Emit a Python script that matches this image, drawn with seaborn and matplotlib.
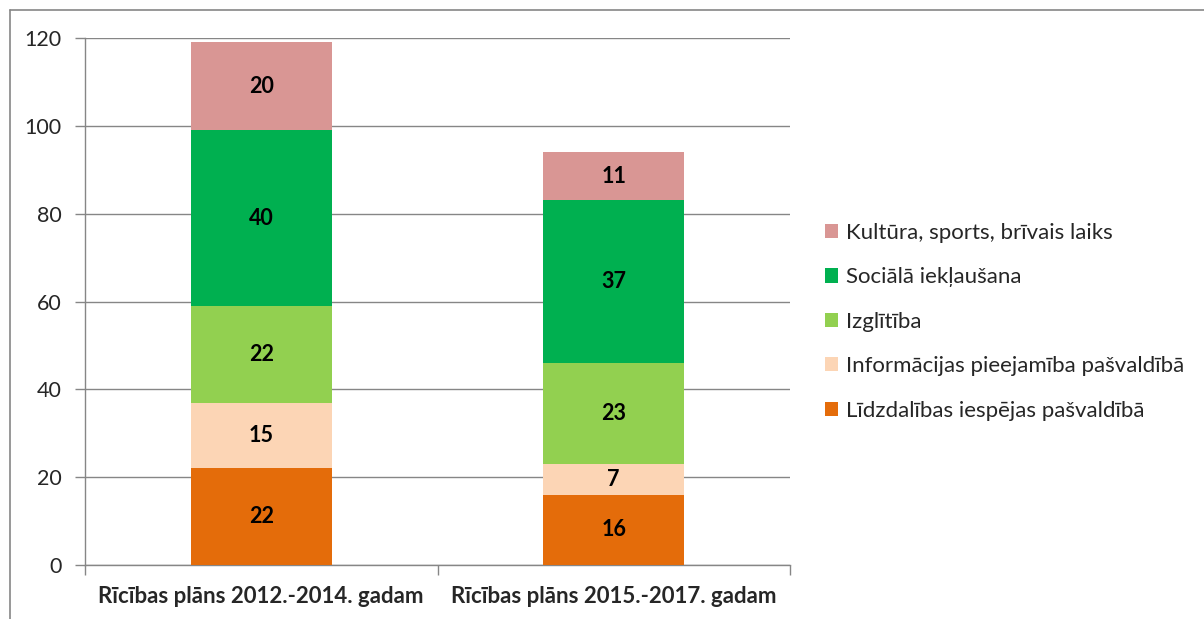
import matplotlib
matplotlib.use("Agg")
import matplotlib.pyplot as plt
import seaborn as sns
import pandas as pd
import numpy as np
from matplotlib.patches import Patch
from matplotlib.lines import Line2D

categories = ["Rīcības plāns 2012.-2014. gadam", "Rīcības plāns 2015.-2017. gadam"]
series_names = ["Līdzdalības iespējas pašvaldībā",
                "Informācijas pieejamība pašvaldībā",
                "Izglītība",
                "Sociālā iekļaušana",
                "Kultūra, sports, brīvais laiks"]
lidzdalibas = [22, 16]
informacijas = [15, 7]
izglitiba = [22, 23]
sociala = [40, 37]
kultura = [20, 11]
colors = ["#E46C0A", "#FCD5B5", "#92D050", "#00B050", "#D99694"]
yticks = [0, 20, 40, 60, 80, 100, 120]

values = [lidzdalibas, informacijas, izglitiba, sociala, kultura]

sns.set_theme(style="white")
plt.rcParams['font.family'] = ['Lato', 'DejaVu Sans']

fig = plt.figure(figsize=(12.04, 6.19), dpi=100)
ax = fig.add_axes([85/1204, 1-565/619, (790-85)/1204, (565-38)/619])

cum = np.cumsum(np.array(values), axis=0)
# draw from top series down so lower segments overlap
for k in range(len(values)-1, -1, -1):
    df = pd.DataFrame({"cat": categories, "val": cum[k]})
    sns.barplot(data=df, x="cat", y="val", color=colors[k], width=0.4,
                saturation=1, ax=ax, zorder=3, linewidth=0)

for k in range(len(values)):
    for i in range(len(categories)):
        v = values[k][i]
        mid = cum[k][i] - v/2
        ax.text(i, mid, str(v), ha="center", va="center", fontsize=15.5,
                fontweight="bold", color="black", zorder=5)

ax.set_xlim(-0.5, 1.5)
ax.set_ylim(0, 120)
ax.set_yticks(yticks)
ax.set_yticklabels([str(t) for t in yticks], fontsize=15.5)
ax.grid(axis="y", color="#868686", linewidth=1, zorder=0)
ax.set_xlabel("")
ax.set_ylabel("")
ax.set_xticks([0, 1])
ax.set_xticklabels(categories, fontsize=16, fontweight="bold")
ax.tick_params(axis="x", which="major", length=0, pad=15)
ax.set_xticks([-0.5, 0.5, 1.5], minor=True)
ax.tick_params(axis="x", which="minor", length=7, color="#868686", width=1, direction="out", bottom=True)
ax.tick_params(axis="y", length=7, color="#868686", width=1, direction="out", left=True, pad=10)
for s in ["top", "right"]:
    ax.spines[s].set_visible(False)
for s in ["left", "bottom"]:
    ax.spines[s].set_color("#868686")
    ax.spines[s].set_linewidth(1)

handles = [Patch(facecolor=colors[k], edgecolor="none") for k in range(len(values)-1, -1, -1)]
labels = [series_names[k] for k in range(len(values)-1, -1, -1)]
fig.legend(handles, labels, loc="upper left", bbox_to_anchor=(816/1204, 1-214/619),
           frameon=False, fontsize=16, handlelength=0.6, handleheight=0.6,
           handletextpad=0.35, labelspacing=1.1, borderaxespad=0)

# outer chart border
fig.add_artist(Line2D([10/1204, 1.0], [1-10/619, 1-10/619], color="#868686", linewidth=1.2, transform=fig.transFigure))
fig.add_artist(Line2D([10/1204, 10/1204], [0, 1-10/619], color="#868686", linewidth=1.2, transform=fig.transFigure))

fig.savefig("out.png", dpi=100)
